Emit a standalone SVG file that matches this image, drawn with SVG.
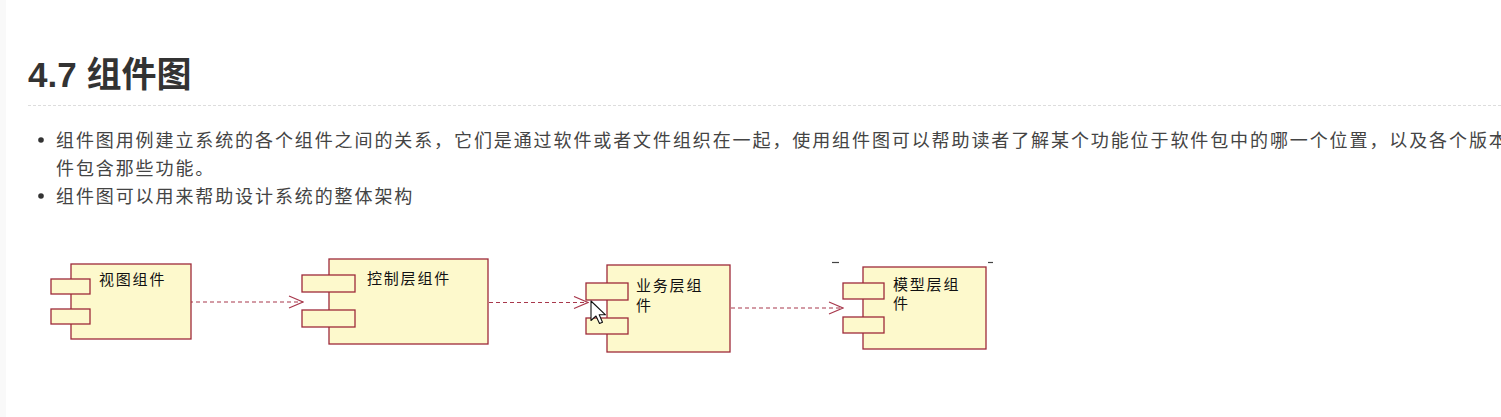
<svg xmlns="http://www.w3.org/2000/svg" width="1501" height="417" viewBox="0 0 1501 417">
  <defs>
    <style>
      .h1 { font-family: "Liberation Sans", "Noto Sans CJK SC", sans-serif; font-size: 35px; font-weight: bold; fill: #333; }
      .body { font-family: "Noto Sans CJK SC", sans-serif; font-size: 18px; fill: #444; letter-spacing: 1.9px; }
      .lbl { font-family: "Noto Sans CJK SC", sans-serif; font-size: 15px; fill: #111; letter-spacing: 1.8px; }
      .comp { fill: #fdf9cc; stroke: #9e2a3a; stroke-width: 1.3; }
      .dep { fill: none; stroke: #a8384c; stroke-width: 1.2; stroke-dasharray: 4 3; }
      .head { fill: none; stroke: #a8384c; stroke-width: 1.2; }
    </style>
    <marker id="open" markerWidth="16" markerHeight="14" refX="15" refY="7" orient="auto" markerUnits="userSpaceOnUse">
      <path d="M1,1 L15,7 L1,13" class="head"/>
    </marker>
  </defs>
  <rect x="0" y="0" width="1501" height="417" fill="#ffffff"/>
  <rect x="0" y="0" width="6" height="417" fill="#f9f9f9"/>

  <text class="h1" x="28" y="87">4.7 组件图</text>
  <line x1="28" y1="105.5" x2="1501" y2="105.5" stroke="#dddddd" stroke-width="1" stroke-dasharray="3 2"/>

  <circle cx="41" cy="140" r="2.8" fill="#333"/>
  <text class="body" x="56" y="146.5">组件图用例建立系统的各个组件之间的关系，它们是通过软件或者文件组织在一起，使用组件图可以帮助读者了解某个功能位于软件包中的哪一个位置，以及各个版本</text>
  <text class="body" x="56" y="174.5">件包含那些功能。</text>
  <circle cx="41" cy="196" r="2.8" fill="#333"/>
  <text class="body" x="56" y="202.5">组件图可以用来帮助设计系统的整体架构</text>

  <g id="connectors">
    <line class="dep" x1="189" y1="302" x2="303" y2="302" marker-end="url(#open)"/>
    <line class="dep" x1="489" y1="302.5" x2="588" y2="302.5" marker-end="url(#open)"/>
    <line class="dep" x1="731" y1="308" x2="843" y2="308" marker-end="url(#open)"/>
  </g>

  <g id="view">
    <rect class="comp" x="71" y="264" width="120" height="75"/>
    <rect class="comp" x="51" y="279" width="39" height="15"/>
    <rect class="comp" x="51" y="309" width="39" height="15"/>
    <text class="lbl" x="99" y="285">视图组件</text>
  </g>

  <g id="control">
    <rect class="comp" x="329" y="259" width="159" height="85"/>
    <rect class="comp" x="302" y="275" width="53" height="17"/>
    <rect class="comp" x="302" y="310" width="53" height="17"/>
    <text class="lbl" x="367" y="284">控制层组件</text>
  </g>

  <g id="business">
    <rect class="comp" x="607" y="265" width="123" height="87"/>
    <rect class="comp" x="586" y="283" width="42" height="17"/>
    <rect class="comp" x="586" y="318" width="42" height="16"/>
    <text class="lbl" x="636" y="291">业务层组</text>
    <text class="lbl" x="636" y="311">件</text>
  </g>

  <g id="model">
    <rect class="comp" x="863" y="267" width="123" height="82"/>
    <rect class="comp" x="843" y="283" width="41" height="16"/>
    <rect class="comp" x="843" y="317" width="41" height="16"/>
    <text class="lbl" x="893" y="290">模型层组</text>
    <text class="lbl" x="893" y="309">件</text>
  </g>

  <line x1="832" y1="262.5" x2="839" y2="262.5" stroke="#444" stroke-width="1.2"/>
  <line x1="988" y1="262.5" x2="993" y2="262.5" stroke="#444" stroke-width="1.2"/>

  <polygon points="591,301 591,320.5 596,316 599.5,323.5 602.5,322.2 599.2,314.8 605.5,314.8" fill="#ffffff" stroke="#111" stroke-width="1.1" stroke-linejoin="round"/>
</svg>
